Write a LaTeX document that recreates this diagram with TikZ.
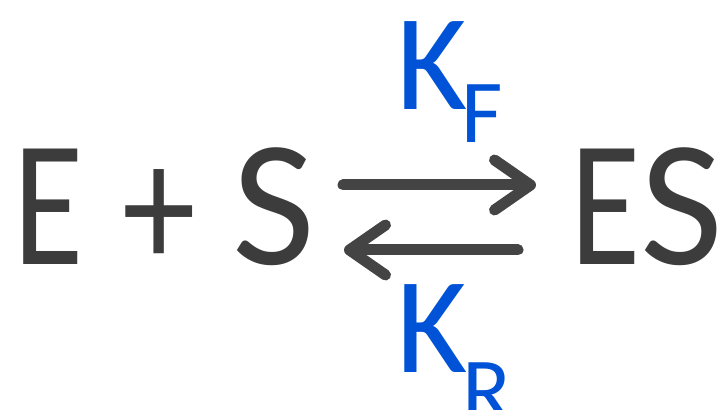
\documentclass[tikz,border=0pt]{standalone}
\usepackage{fontspec}
\setmainfont{Carlito}
\usetikzlibrary{arrows.meta}
\definecolor{txtgray}{RGB}{60,60,60}
\definecolor{arrgray}{RGB}{68,68,68}
\definecolor{kblue}{RGB}{0,82,215}
\newcommand{\narrowE}{\scalebox{0.8}[1]{E}}
\begin{document}
\begin{tikzpicture}[x=1pt,y=1pt,
  big/.style={inner sep=0pt, anchor=base, text=txtgray, font=\fontsize{180}{190}\selectfont},
  kmain/.style={inner sep=0pt, anchor=base, text=kblue, font=\fontsize{137}{140}\selectfont},
  ksub/.style={inner sep=0pt, anchor=base, text=kblue, font=\fontsize{90}{95}\selectfont},
  rxn/.style={draw=arrgray, line width=11pt, line cap=round,
    -{Straight Barb[length=36pt, width=50pt, line width=11pt, round]}}]
\useasboundingbox (0,0) rectangle (719,409);
\clip (0,0) rectangle (719,409);
\node[big] (E) at (49,144) {\narrowE};
\node[big] (plus) at (159.5,140) {\scalebox{0.82}[1]{+}};
\node[big] (S) at (273.5,144) {S};
\node[big] (ES) at (646.5,144) {\narrowE S};
\coordinate (f1) at (343,224);
\coordinate (f2) at (536,224);
\coordinate (r1) at (518,159);
\coordinate (r2) at (344,159);
\draw[rxn] (f1) -- (f2);
\draw[rxn] (r1) -- (r2);
\node[kmain] (KF) at (432,299) {K};
\node[ksub] (F) at (482,266) {F};
\node[kmain] (KR) at (432,36) {K};
\node[ksub] (R) at (487,-11) {R};
\end{tikzpicture}
\end{document}
